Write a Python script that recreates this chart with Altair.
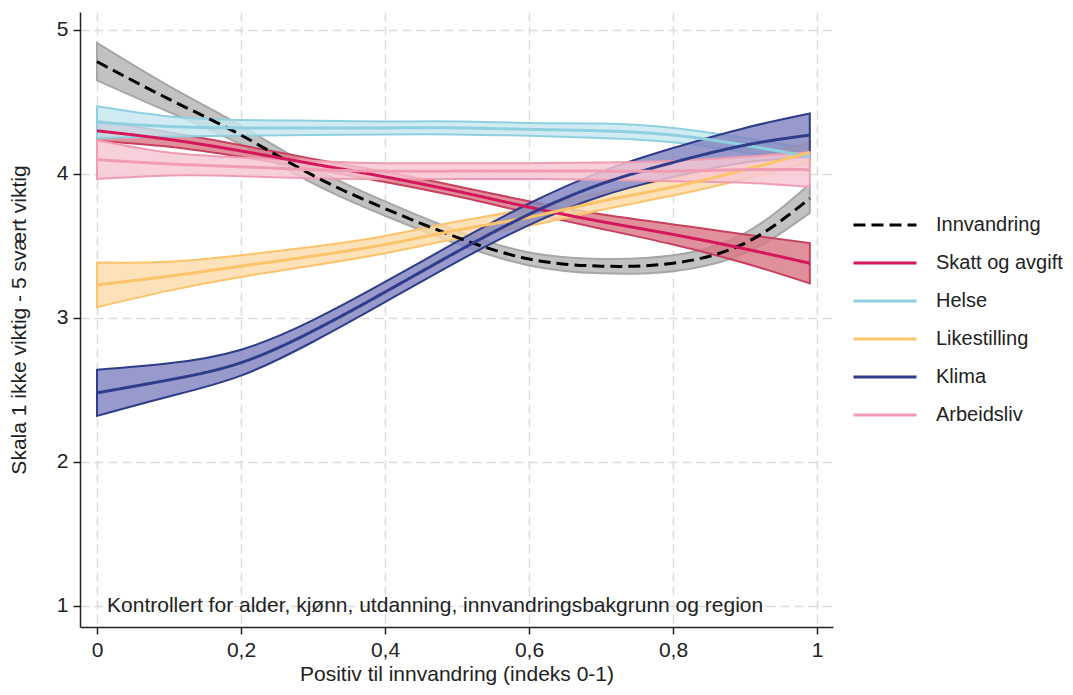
import altair as alt
import pandas as pd

# ---- data ----
xs = [0, 0.1, 0.2, 0.3, 0.4, 0.5, 0.6, 0.7, 0.8, 0.9, 0.99]
series_names = ["Innvandring", "Skatt og avgift", "Helse", "Likestilling", "Klima", "Arbeidsliv"]

innvandring = [4.78, 4.52, 4.27, 3.99, 3.76, 3.56, 3.41, 3.36, 3.38, 3.52, 3.83]
innvandring_hw = [0.13, 0.09, 0.065, 0.055, 0.05, 0.045, 0.045, 0.05, 0.055, 0.07, 0.10]
skatt = [4.30, 4.24, 4.16, 4.07, 3.98, 3.88, 3.77, 3.67, 3.58, 3.48, 3.38]
skatt_hw = [0.07, 0.05, 0.04, 0.035, 0.035, 0.035, 0.04, 0.05, 0.07, 0.10, 0.14]
helse = [4.36, 4.33, 4.32, 4.32, 4.32, 4.32, 4.31, 4.30, 4.27, 4.20, 4.12]
helse_hw = [0.11, 0.07, 0.055, 0.05, 0.045, 0.045, 0.045, 0.05, 0.05, 0.05, 0.055]
likestilling = [3.23, 3.29, 3.36, 3.43, 3.51, 3.61, 3.70, 3.81, 3.91, 4.03, 4.15]
likestilling_hw = [0.155, 0.10, 0.075, 0.065, 0.06, 0.06, 0.06, 0.06, 0.06, 0.065, 0.07]
klima = [2.48, 2.57, 2.69, 2.91, 3.18, 3.46, 3.72, 3.93, 4.08, 4.20, 4.27]
klima_hw = [0.16, 0.115, 0.09, 0.075, 0.07, 0.07, 0.075, 0.085, 0.10, 0.12, 0.15]
arbeidsliv = [4.10, 4.07, 4.05, 4.03, 4.02, 4.02, 4.02, 4.02, 4.02, 4.03, 4.03]
arbeidsliv_hw = [0.135, 0.08, 0.065, 0.06, 0.055, 0.055, 0.055, 0.06, 0.07, 0.09, 0.12]

note_text = ["Kontrollert for alder, kjønn, utdanning, innvandringsbakgrunn og region"]
note_x = [0.014]
note_y = [1.0]

x_ticks = [0, 0.2, 0.4, 0.6, 0.8, 1]
y_ticks = [1, 2, 3, 4, 5]

# ---- styles ----
line_colors = ["#000000", "#d4175b", "#8fd0e0", "#fdc36a", "#2e3c8a", "#f09db3"]
edge_colors = ["#a6a6a6", "#c9405f", "#8fd0e0", "#fdc36a", "#2e3c8a", "#f09db3"]
fill_colors = ["#b4b4b4", "#d97784", "#c6e6ef", "#fddca9", "#8084c0", "#f6c6d3"]
dashes = [[12, 6], [1, 0], [1, 0], [1, 0], [1, 0], [1, 0]]

values = [innvandring, skatt, helse, likestilling, klima, arbeidsliv]
halfw = [innvandring_hw, skatt_hw, helse_hw, likestilling_hw, klima_hw, arbeidsliv_hw]

rows = []
for name, ys, hws in zip(series_names, values, halfw):
    for x, y, h in zip(xs, ys, hws):
        rows.append({"series": name, "x": x, "y": y, "lo": y - h, "hi": y + h})
df = pd.DataFrame(rows)

FONT = "Liberation Sans"
FS = 21
xscale = alt.Scale(domain=[-0.0236, 1.0222], nice=False, zero=False)
yscale = alt.Scale(domain=[0.854, 5.125], nice=False, zero=False)

xaxis = alt.Axis(values=x_ticks, labelExpr="replace(datum.label, '.', ',')",
                 title="Positiv til innvandring (indeks 0-1)", format="~g")
yaxis = alt.Axis(values=y_ticks, title="Skala 1 ikke viktig - 5 svært viktig", format="~g")

layers = []
for i, name in enumerate(series_names):
    sub = df[df.series == name]
    area = alt.Chart(sub).mark_area(
        interpolate="natural", fill=fill_colors[i], fillOpacity=0.82,
        stroke=edge_colors[i], strokeWidth=2
    ).encode(
        x=alt.X("x:Q", scale=xscale, axis=xaxis),
        y=alt.Y("lo:Q", scale=yscale, axis=yaxis),
        y2="hi:Q",
    )
    layers.append(area)

legend = alt.Legend(title=None, orient="none", legendX=772, legendY=195,
                    symbolType="stroke", symbolSize=3969, clipHeight=36,
                    symbolStrokeWidth=3, labelFontSize=20,
                    labelFont=FONT, labelColor="#222222",
                    labelOffset=18, rowPadding=2)

lines = alt.Chart(df).mark_line(interpolate="natural", strokeWidth=3).encode(
    x=alt.X("x:Q", scale=xscale, axis=xaxis),
    y=alt.Y("y:Q", scale=yscale, axis=yaxis),
    color=alt.Color("series:N", sort=series_names,
                    scale=alt.Scale(domain=series_names, range=line_colors),
                    legend=legend),
    strokeDash=alt.StrokeDash("series:N", sort=series_names,
                              scale=alt.Scale(domain=series_names, range=dashes),
                              legend=legend),
    order=alt.Order("x:Q"),
)
layers.append(lines)

note_df = pd.DataFrame({"text": note_text, "x": note_x, "y": note_y})
note = alt.Chart(note_df).mark_text(align="left", baseline="middle", fontSize=FS,
                                    font=FONT, color="#222222").encode(
    x=alt.X("x:Q", scale=xscale, axis=xaxis),
    y=alt.Y("y:Q", scale=yscale, axis=yaxis),
    text="text:N",
)
layers.append(note)

chart = alt.layer(*layers).properties(
    width=753, height=615,
    autosize=alt.AutoSizeParams(type="none"),
    padding={"left": 72, "top": 4, "right": 232, "bottom": 60},
).configure_view(stroke=None).configure_axis(
    labelFont=FONT, titleFont=FONT, labelFontSize=FS, titleFontSize=FS,
    labelColor="#222222", titleColor="#222222", titleFontWeight="normal",
    domainColor="#222222", domainWidth=1.5, tickColor="#222222", tickSize=7, tickWidth=1.5,
    gridColor="#dcdcdc", gridDash=[9, 5], gridWidth=1.5, labelPadding=5,
).configure_axisX(titlePadding=3).configure_axisY(titlePadding=27)

chart.save("out.html", embed_options={"renderer": "svg", "actions": False})
